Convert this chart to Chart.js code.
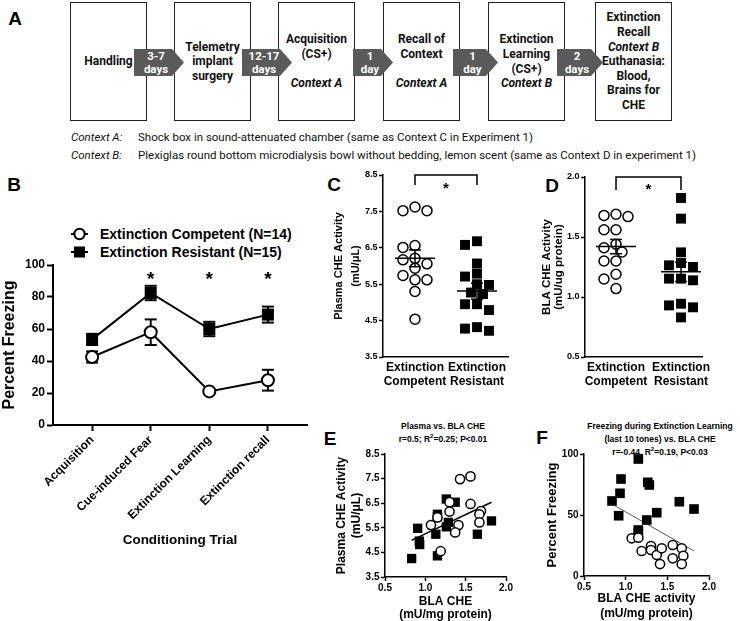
<!DOCTYPE html>
<html><head><meta charset="utf-8">
<script src="https://cdn.jsdelivr.net/npm/chart.js@4.4.0/dist/chart.umd.min.js"></script>
<style>
html,body{margin:0;padding:0;background:#fff;}
body{width:740px;height:621px;position:relative;overflow:hidden;font-family:'Liberation Sans',Arial,sans-serif;color:#000;}
canvas{position:absolute;}
.box{position:absolute;top:2px;height:119px;width:77px;border:1.5px solid #222;box-sizing:border-box;background:#fff;display:flex;flex-direction:column;justify-content:center;align-items:center;text-align:center;font-family:Roboto,sans-serif;font-weight:bold;font-size:12px;line-height:14.6px;color:#111;}
.box div{min-height:14.6px;white-space:nowrap;}
.arrow{position:absolute;top:49px;height:27px;background:#5a5a5a;clip-path:polygon(0 0,calc(100% - 12px) 0,100% 50%,calc(100% - 12px) 100%,0 100%);color:#fff;font-family:Roboto,sans-serif;font-weight:bold;font-size:11.5px;line-height:13px;text-align:center;box-sizing:border-box;padding-right:6px;padding-top:0.5px;}
.ctx{position:absolute;left:71px;font-family:Roboto,sans-serif;font-size:11.5px;line-height:14px;white-space:nowrap;color:#111;}
.ctx i{display:inline-block;width:67px;}
.letter{position:absolute;transform:translate(-50%,-50%);font-weight:bold;font-size:19px;line-height:1;}
.ptitle{position:absolute;transform:translateX(-50%);text-align:center;font-weight:bold;font-size:8.5px;line-height:13px;white-space:nowrap;}
.ptitle sup{font-size:6px;line-height:0;}
.leg{position:absolute;left:71px;font-weight:bold;font-size:14px;line-height:18px;white-space:nowrap;display:flex;align-items:center;}
.leg svg{margin-right:12px;}
</style>
</head><body>

<div class="letter" style="left:15px;top:18px">A</div>
<div class="letter" style="left:14px;top:184px">B</div>
<div class="letter" style="left:334px;top:184px">C</div>
<div class="letter" style="left:552px;top:185px">D</div>
<div class="letter" style="left:330px;top:438px">E</div>
<div class="letter" style="left:542px;top:437px">F</div>

<div id="flow"></div>
<div class="ctx" style="top:130px"><i>Context A:</i>Shock box in sound-attenuated chamber (same as Context C in Experiment 1)</div>
<div class="ctx" style="top:148px"><i>Context B:</i>Plexiglas round bottom microdialysis bowl without bedding, lemon scent (same as Context D in experiment 1)</div>

<div class="leg" style="top:225px"><svg width="17" height="14"><line x1="0" y1="7" x2="17" y2="7" stroke="#000" stroke-width="2"/><circle cx="8.5" cy="7" r="5.2" fill="#fff" stroke="#000" stroke-width="2"/></svg>Extinction Competent (N=14)</div>
<div class="leg" style="top:243px"><svg width="17" height="14"><line x1="0" y1="7" x2="17" y2="7" stroke="#000" stroke-width="2"/><rect x="3" y="1.5" width="11" height="11" fill="#000"/></svg>Extinction Resistant (N=15)</div>

<div class="ptitle" style="left:443px;top:420px">Plasma vs. BLA CHE<br>r=0.5; R<sup>2</sup>=0.25; P&lt;0.01</div>
<div class="ptitle" style="left:660px;top:420px">Freezing during Extinction Learning<br>(last 10 tones) vs. BLA CHE<br>r=-0.44, R<sup>2</sup>=0.19, P&lt;0.03</div>

<script>
// ---------------- Panel A (flowchart text) ----------------
const FLOW_BOXES = [
  ['Handling'],
  ['Telemetry','implant','surgery'],
  ['Acquisition','(CS+)','','<i>Context A</i>'],
  ['Recall of','Context','','<i>Context A</i>'],
  ['Extinction','Learning','(CS+)','<i>Context B</i>'],
  ['Extinction','Recall','<i>Context B</i>','Euthanasia:','Blood,','Brains for','CHE']
];
const FLOW_ARROWS = [['3-7','days'],['12-17','days'],['1','day'],['1','day'],['2','days']];

// ---------------- Panel B ----------------
const B_CATEGORIES = ['Acquisition','Cue-induced Fear','Extinction Learning','Extinction recall'];
const B_COMP_MEAN = [42.5, 58, 21, 28];
const B_COMP_SEM  = [3.5, 8, 1, 6.5];
const B_RES_MEAN  = [53.5, 82.5, 60, 69];
const B_RES_SEM   = [3.5, 4.5, 4.5, 5];
const B_SIGNIF    = [false, true, true, true];
const B_Y_TICKS   = [0, 20, 40, 60, 80, 100];

// ---------------- Panels C / D ----------------
const GROUP_LABELS = [['Extinction','Competent'],['Extinction','Resistant']];
const C_COMP = [7.52, 7.62, 7.52, 6.56, 6.51, 6.17, 6.21, 6.06, 5.94, 5.74, 5.62, 5.62, 5.30, 4.54];
const C_RES  = [6.58, 6.68, 6.07, 5.71, 5.79, 5.48, 5.50, 5.27, 5.23, 4.95, 4.95, 4.79, 4.22, 4.32, 4.28];
const C_MEAN = [6.21, 5.31];
const C_SEM  = [0.23, 0.22];
const C_Y_TICKS = [3.5, 4.5, 5.5, 6.5, 7.5, 8.5];

const D_COMP = [1.69, 1.67, 1.68, 1.56, 1.56, 1.41, 1.44, 1.375, 1.30, 1.30, 1.19, 1.15, 1.07];
const D_RES  = [1.825, 1.653, 1.372, 1.283, 1.264, 1.25, 1.153, 1.139, 1.153, 0.944, 0.914, 0.93, 0.83];
const D_MEAN = [1.42, 1.21];
const D_SEM  = [0.06, 0.08];
const D_Y_TICKS = [0.5, 1.0, 1.5, 2.0];

// ---------------- Panel E ----------------
const E_COMP_X = [1.43, 1.56, 1.30, 1.56, 1.30, 1.69, 1.67, 1.67, 1.07, 1.15, 1.41, 1.37, 1.19];
const E_COMP_Y = [7.48, 7.59, 6.54, 6.47, 6.16, 6.18, 6.05, 5.72, 5.61, 5.92, 5.61, 5.31, 4.55];
const E_RES_X  = [1.26, 1.37, 1.15, 1.15, 0.905, 1.285, 1.26, 1.13, 0.925, 0.93, 1.15, 0.83, 1.645, 1.82];
const E_RES_Y  = [6.67, 6.54, 6.05, 5.95, 5.48, 5.72, 5.54, 5.24, 4.96, 4.82, 4.36, 4.25, 5.24, 5.78];
const E_FIT_X  = [0.83, 1.82];
const E_FIT_Y  = [4.99, 6.54];
const E_X_TICKS = [0.5, 1.0, 1.5, 2.0];
const E_Y_TICKS = [3.5, 4.5, 5.5, 6.5, 7.5, 8.5];

// ---------------- Panel F ----------------
const F_COMP_X = [1.072, 1.152, 1.304, 1.304, 1.192, 1.373, 1.433, 1.412, 1.565, 1.565, 1.673, 1.692, 1.673];
const F_COMP_Y = [30.9, 31.4, 24.6, 21.3, 20.5, 17.2, 22.7, 9.8, 25.4, 14.5, 22.7, 16.6, 9.8];
const F_RES_X  = [1.152, 0.944, 1.265, 1.284, 0.932, 0.836, 0.916, 1.644, 1.82, 1.373, 1.253, 1.152, 1.152];
const F_RES_Y  = [95.9, 79.5, 76.8, 74.6, 67.8, 61.5, 49.4, 60.9, 54.9, 51.9, 45.9, 37.7, 35.8];
const F_FIT_X  = [0.83, 1.82];
const F_FIT_Y  = [59.2, 20.5];
const F_X_TICKS = [0.5, 1.0, 1.5, 2.0];
const F_Y_TICKS = [0, 50, 100];

// ================= build flowchart =================
(function(){
  const flow = document.getElementById('flow');
  const boxLeft = [70, 174, 278, 383, 488, 595];
  FLOW_BOXES.forEach((lines, i) => {
    const d = document.createElement('div');
    d.className = 'box'; d.style.left = boxLeft[i] + 'px';
    d.innerHTML = lines.map(t => '<div>' + t + '</div>').join('');
    flow.appendChild(d);
  });
  const arr = [[134,50],[242,50],[353,40],[453,45],[557,46]];
  FLOW_ARROWS.forEach((t, i) => {
    const a = document.createElement('div');
    a.className = 'arrow'; a.style.left = arr[i][0] + 'px'; a.style.width = arr[i][1] + 'px';
    a.innerHTML = t.join('<br>');
    flow.appendChild(a);
  });
})();

// ================= Chart.js helpers =================
Chart.defaults.font.family = "'Liberation Sans', Arial, Helvetica, sans-serif";
Chart.defaults.font.weight = 'bold';
Chart.defaults.color = '#000';
Chart.defaults.animation = false;
Chart.defaults.plugins.legend.display = false;
Chart.defaults.plugins.tooltip.enabled = false;

function makeCanvas(plot, m) {
  const c = document.createElement('canvas');
  const w = m.l + (plot.x1 - plot.x0) + m.r, h = m.t + (plot.y1 - plot.y0) + m.b;
  c.width = w; c.height = h;
  c.style.width = w + 'px'; c.style.height = h + 'px';
  c.style.left = (plot.x0 - m.l) + 'px'; c.style.top = (plot.y0 - m.t) + 'px';
  document.body.appendChild(c);
  return c;
}

function axis(o) {
  const horiz = o.pos === 'bottom';
  return {
    type: 'linear', position: o.pos, min: o.min, max: o.max,
    afterBuildTicks: s => { s.ticks = o.ticks.map(v => ({value: v})); },
    afterFit: s => {
      if (horiz) { s.height = o.size; s.paddingLeft = 0; s.paddingRight = 0; }
      else { s.width = o.size; s.paddingTop = 0; s.paddingBottom = 0; }
    },
    border: {display: true, color: '#000', width: o.bw || 1.5},
    grid: {display: true, drawOnChartArea: false, drawTicks: o.tl > 0, tickLength: o.tl, tickWidth: o.bw || 1.5, tickColor: '#000'},
    ticks: {font: {size: o.fs, weight: 'bold', lineHeight: o.lh || 1.2}, padding: o.pad, color: '#000',
            callback: o.cb, minRotation: o.rot || 0, maxRotation: o.rot || 0, autoSkip: false},
    title: o.title ? {display: true, text: o.title, color: '#000',
            font: {size: o.tfs, weight: 'bold', lineHeight: o.tlh}, padding: o.tpad} : {display: false}
  };
}

function baseOptions(m, xAx, yAx) {
  return {
    responsive: false, devicePixelRatio: 1, animation: false,
    layout: {padding: {left: 0, right: m.r, top: m.t, bottom: 0}},
    scales: {x: xAx, y: yAx},
    plugins: {legend: {display: false}, tooltip: {enabled: false}}
  };
}

function star(ctx, x, yc, size) {
  ctx.save();
  ctx.font = 'bold ' + size + "px 'Liberation Sans', Arial";
  ctx.fillStyle = '#000'; ctx.textAlign = 'center'; ctx.textBaseline = 'alphabetic';
  ctx.fillText('*', x, yc + size * 0.58);
  ctx.restore();
}
function seg(ctx, x1, y1, x2, y2) { ctx.beginPath(); ctx.moveTo(x1, y1); ctx.lineTo(x2, y2); ctx.stroke(); }

// ================= Panel B =================
(function(){
  const plot = {x0: 53, x1: 307, y0: 265, y1: 425};
  const m = {l: 53, r: 13, t: 12, b: 130};
  const cv = makeCanvas(plot, m);
  const comp = B_COMP_MEAN.map((v, i) => ({x: i, y: v}));
  const res  = B_RES_MEAN.map((v, i) => ({x: i, y: v}));
  const xAx = axis({pos: 'bottom', min: -0.667, max: 3.667, ticks: [0,1,2,3], size: m.b, bw: 2, tl: 6, fs: 12, pad: 2, rot: 45,
    cb: v => B_CATEGORIES[v], title: 'Conditioning Trial', tfs: 13.5, tlh: 1.2, tpad: {top: 0, bottom: 7}});
  const yAx = axis({pos: 'left', min: 0, max: 100, ticks: B_Y_TICKS, size: m.l, bw: 2, tl: 6, fs: 12, pad: 2,
    cb: v => String(v), title: 'Percent Freezing', tfs: 16, tlh: 1.2, tpad: {top: 0, bottom: 0}});
  const errPlugin = {
    id: 'errB',
    beforeDatasetsDraw(chart) {
      const {ctx, scales: {x, y}} = chart;
      ctx.save(); ctx.strokeStyle = '#000'; ctx.lineWidth = 2;
      [[B_COMP_MEAN, B_COMP_SEM], [B_RES_MEAN, B_RES_SEM]].forEach(([mn, se]) => {
        mn.forEach((v, i) => {
          const px = x.getPixelForValue(i), yt = y.getPixelForValue(v + se[i]), yb = y.getPixelForValue(v - se[i]);
          seg(ctx, px, yt, px, yb); seg(ctx, px - 6, yt, px + 6, yt); seg(ctx, px - 6, yb, px + 6, yb);
        });
      });
      ctx.restore();
    },
    afterDatasetsDraw(chart) {
      const {ctx, chartArea, scales: {x}} = chart;
      B_SIGNIF.forEach((s, i) => { if (s) star(ctx, x.getPixelForValue(i), chartArea.top + 9, 19); });
    }
  };
  new Chart(cv, {
    type: 'scatter',
    data: {datasets: [
      {data: comp, showLine: true, borderColor: '#000', borderWidth: 2, pointStyle: 'circle', pointRadius: 6,
       pointBackgroundColor: '#fff', pointBorderColor: '#000', pointBorderWidth: 2},
      {data: res, showLine: true, borderColor: '#000', borderWidth: 2, pointStyle: 'rect', pointRadius: 8.5,
       pointBackgroundColor: '#000', pointBorderColor: '#000', pointBorderWidth: 0}
    ]},
    options: baseOptions(m, xAx, yAx),
    plugins: [errPlugin]
  });
})();

// ================= Panels C & D (dot plots) =================
function swarm(values, pxY, diam, step) {
  const order = values.map((v, i) => i).sort((a, b) => values[b] - values[a]);
  const placed = [], off = new Array(values.length).fill(0);
  const cands = [0]; for (let k = 1; k <= 5; k++) cands.push(-k * step, k * step);
  order.forEach(i => {
    for (const c of cands) {
      const ok = placed.every(p => { const dx = c - p.o, dy = (values[i] - p.v) * pxY; return dx * dx + dy * dy >= diam * diam; });
      if (ok) { off[i] = c; placed.push({o: c, v: values[i]}); break; }
    }
  });
  return off;
}

function dotPlot(cfg) {
  const {plot, m, xr, yr} = cfg;
  const cv = makeCanvas(plot, m);
  const pxY = (plot.y1 - plot.y0) / (yr[1] - yr[0]);
  const pxX = (plot.x1 - plot.x0) / (xr[1] - xr[0]);
  const mk = (vals, g) => { const o = swarm(vals, pxY, 9.5, 6); return vals.map((v, i) => ({x: g + o[i] / pxX, y: v})); };
  const xAx = axis({pos: 'bottom', min: xr[0], max: xr[1], ticks: [0, 1], size: m.b, bw: 1.5, tl: 0, fs: 12, lh: '14px', pad: 4,
    cb: v => GROUP_LABELS[v]});
  const yAx = axis({pos: 'left', min: yr[0], max: yr[1], ticks: cfg.yticks, size: m.l, bw: 1.5, tl: 4, fs: 9, pad: 1.5,
    cb: v => v.toFixed(1), title: cfg.ytitle, tfs: cfg.tfs, tlh: cfg.tlh, tpad: cfg.tpad});
  const plug = {
    id: 'meanSem',
    afterDatasetsDraw(chart) {
      const {ctx, scales: {x, y}} = chart;
      ctx.save(); ctx.strokeStyle = '#000'; ctx.lineWidth = 1.5;
      cfg.mean.forEach((mv, i) => {
        const px = x.getPixelForValue(i), ym = y.getPixelForValue(mv);
        const yt = y.getPixelForValue(mv + cfg.sem[i]), yb = y.getPixelForValue(mv - cfg.sem[i]);
        seg(ctx, px - 20, ym, px + 20, ym);
        seg(ctx, px, yt, px, yb); seg(ctx, px - 6, yt, px + 6, yt); seg(ctx, px - 6, yb, px + 6, yb);
      });
      const x0 = x.getPixelForValue(0), x1 = x.getPixelForValue(1), top = y.getPixelForValue(yr[1]);
      ctx.beginPath(); ctx.moveTo(x0, top + cfg.leg); ctx.lineTo(x0, top); ctx.lineTo(x1, top); ctx.lineTo(x1, top + cfg.leg); ctx.stroke();
      ctx.restore();
      star(ctx, (x0 + x1) / 2, top + cfg.starDy, 15);
    }
  };
  new Chart(cv, {
    type: 'scatter',
    data: {datasets: [
      {data: mk(cfg.comp, 0), pointStyle: 'circle', pointRadius: 5, pointBackgroundColor: '#fff', pointBorderColor: '#000', pointBorderWidth: 1.5},
      {data: mk(cfg.res, 1), pointStyle: 'rect', pointRadius: 7, pointBackgroundColor: '#000', pointBorderColor: '#000', pointBorderWidth: 0}
    ]},
    options: baseOptions(m, xAx, yAx),
    plugins: [plug]
  });
}

dotPlot({plot: {x0: 383, x1: 508, y0: 175, y1: 357}, m: {l: 53, r: 25, t: 10, b: 40}, xr: [-0.516, 1.5], yr: [3.5, 8.5],
  yticks: C_Y_TICKS, comp: C_COMP, res: C_RES, mean: C_MEAN, sem: C_SEM,
  ytitle: ['Plasma CHE Activity', '(mU/\u03bcL)'], tfs: 11, tlh: '17px', tpad: {top: 0, bottom: 0}, leg: 10, starDy: 9});

dotPlot({plot: {x0: 585, x1: 702, y0: 177, y1: 357}, m: {l: 47, r: 30, t: 10, b: 40}, xr: [-0.477, 1.323], yr: [0.5, 2.0],
  yticks: D_Y_TICKS, comp: D_COMP, res: D_RES, mean: D_MEAN, sem: D_SEM,
  ytitle: ['BLA CHE Activity', '(mU/ug protein)'], tfs: 11.5, tlh: '12.5px', tpad: {top: 2.5, bottom: 0}, leg: 13, starDy: 8});

// ================= Panels E & F (correlations) =================
function corrPlot(cfg) {
  const {plot, m} = cfg;
  const cv = makeCanvas(plot, m);
  const xAx = axis({pos: 'bottom', min: 0.5, max: 2.0, ticks: cfg.xticks, size: m.b, bw: 1.5, tl: 4, fs: 10, pad: 1.5,
    cb: v => v.toFixed(1), title: cfg.xtitle, tfs: 12, tlh: cfg.xtlh, tpad: {top: 0, bottom: 0}});
  const yAx = axis({pos: 'left', min: cfg.yr[0], max: cfg.yr[1], ticks: cfg.yticks, size: m.l, bw: 1.5, tl: 4, fs: 10, pad: 1.5,
    cb: cfg.ycb, title: cfg.ytitle, tfs: cfg.ytfs, tlh: cfg.ytlh, tpad: cfg.ytpad});
  new Chart(cv, {
    type: 'scatter',
    data: {datasets: [
      {data: cfg.cx.map((v, i) => ({x: v, y: cfg.cy[i]})), pointStyle: 'circle', pointRadius: 4.6,
       pointBackgroundColor: '#fff', pointBorderColor: '#000', pointBorderWidth: 1.5},
      {data: cfg.rx.map((v, i) => ({x: v, y: cfg.ry[i]})), pointStyle: 'rect', pointRadius: cfg.sq,
       pointBackgroundColor: '#000', pointBorderColor: '#000', pointBorderWidth: 0},
      {data: cfg.fx.map((v, i) => ({x: v, y: cfg.fy[i]})), showLine: true, pointRadius: 0,
       borderColor: cfg.fitColor, borderWidth: cfg.fitWidth}
    ]},
    options: baseOptions(m, xAx, yAx)
  });
}

corrPlot({plot: {x0: 385, x1: 506, y0: 454, y1: 577}, m: {l: 55, r: 12, t: 8, b: 44}, yr: [3.5, 8.5],
  xticks: E_X_TICKS, yticks: E_Y_TICKS, ycb: v => v.toFixed(1),
  cx: E_COMP_X, cy: E_COMP_Y, rx: E_RES_X, ry: E_RES_Y, fx: E_FIT_X, fy: E_FIT_Y, sq: 6.6, fitColor: '#000', fitWidth: 1.5,
  xtitle: ['BLA CHE', '(mU/mg protein)'], xtlh: '13px',
  ytitle: ['Plasma CHE Activity', '(mU/\u03bcL)'], ytfs: 12, ytlh: '15px', ytpad: {top: 4.5, bottom: 0}});

corrPlot({plot: {x0: 584, x1: 709, y0: 454, y1: 576}, m: {l: 46, r: 12, t: 8, b: 45}, yr: [0, 100],
  xticks: F_X_TICKS, yticks: F_Y_TICKS, ycb: v => String(v),
  cx: F_COMP_X, cy: F_COMP_Y, rx: F_RES_X, ry: F_RES_Y, fx: F_FIT_X, fy: F_FIT_Y, sq: 6.8, fitColor: '#555', fitWidth: 1,
  xtitle: ['BLA CHE activity', '(mU/mg protein)'], xtlh: '15px',
  ytitle: 'Percent Freezing', ytfs: 13, ytlh: '15px', ytpad: {top: 6.5, bottom: 0}});
</script>
</body></html>
